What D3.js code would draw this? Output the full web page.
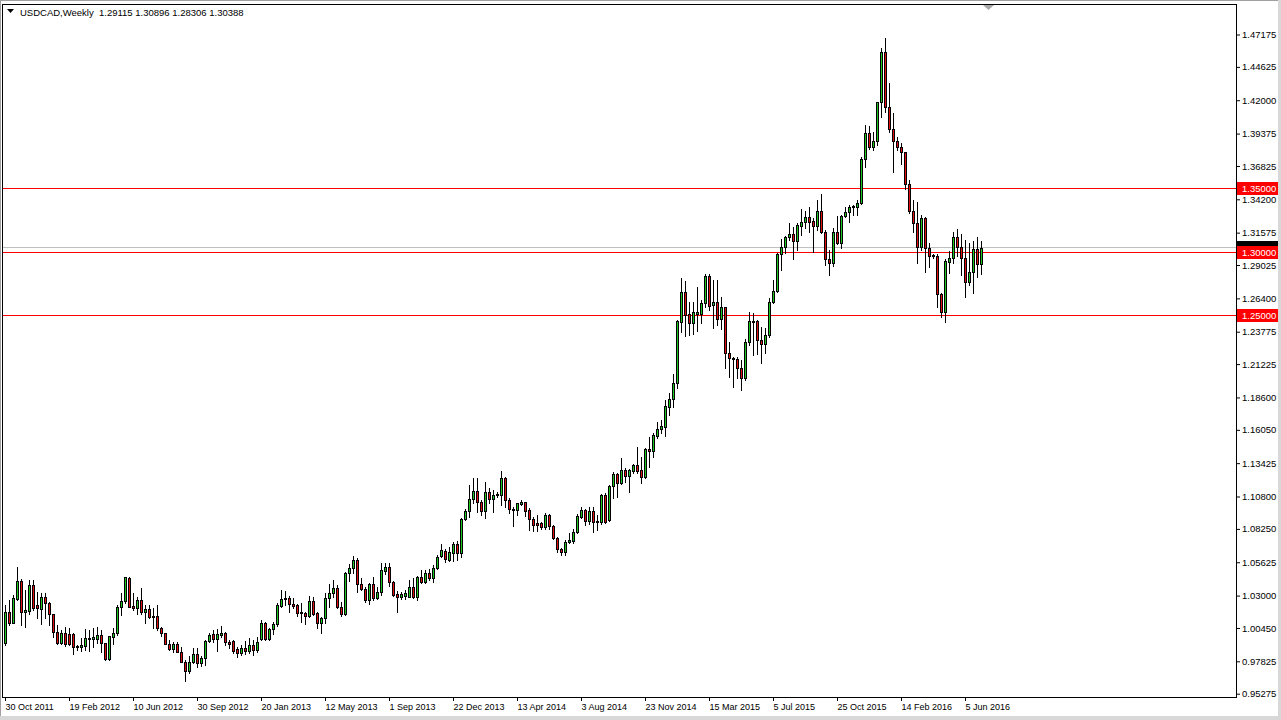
<!DOCTYPE html>
<html><head><meta charset="utf-8">
<script src="https://cdn.jsdelivr.net/npm/d3@7"></script>
<style>html,body{margin:0;padding:0;background:#fff;overflow:hidden}text{font-family:"Liberation Sans",Arial,sans-serif}</style>
</head><body>
<svg id="c" width="1281" height="720"></svg>
<script>
// ---------------- DATA ----------------
const symbolName = "USDCAD,Weekly";
const lastQuote = ["1.29115", "1.30896", "1.28306", "1.30388"];

const openP = [
0.9929,1.0173,1.0086,1.0271,1.0415,1.0168,1.0181,1.0383,1.0226,1.0192,
1.0286,1.0244,1.0152,1.0011,0.9929,1.0003,0.9995,0.9995,0.9903,0.9897,
0.9905,0.9960,0.9958,0.9960,0.9987,0.9924,0.9801,0.9976,1.0003,1.0208,
1.0257,1.0441,1.0218,1.0200,1.0265,1.0173,1.0194,1.0139,1.0139,1.0042,
1.0003,0.9919,0.9882,0.9919,0.9858,0.9779,0.9709,0.9774,0.9838,0.9771,
0.9806,0.9942,0.9995,0.9955,0.9989,1.0003,0.9937,0.9945,0.9877,0.9850,
0.9887,0.9864,0.9911,0.9872,0.9958,1.0082,0.9958,1.0034,1.0076,1.0220,
1.0271,1.0281,1.0231,1.0226,1.0168,1.0165,1.0141,1.0257,1.0160,1.0082,
1.0121,1.0278,1.0318,1.0357,1.0208,1.0155,1.0475,1.0519,1.0580,1.0389,
1.0349,1.0265,1.0389,1.0278,1.0330,1.0495,1.0527,1.0409,1.0310,1.0291,
1.0300,1.0291,1.0365,1.0291,1.0444,1.0409,1.0480,1.0436,1.0515,1.0614,
1.0651,1.0580,1.0638,1.0706,1.0633,1.0900,1.0966,1.1058,1.1124,1.1035,
1.0969,1.1114,1.1059,1.1090,1.1092,1.1224,1.1053,1.0982,1.0974,1.1022,
1.1035,1.0974,1.0901,1.0870,1.0870,1.0843,1.0935,1.0851,1.0752,1.0665,
1.0646,1.0725,1.0733,1.0804,1.0921,1.0974,1.0890,1.0969,1.0877,1.0877,
1.1092,1.0896,1.1163,1.1257,1.1184,1.1289,1.1241,1.1283,1.1328,1.1289,
1.1231,1.1452,1.1440,1.1559,1.1609,1.1630,1.1787,1.1846,1.1971,1.2456,
1.2688,1.2517,1.2448,1.2514,1.2514,1.2601,1.2818,1.2588,1.2609,1.2475,
1.2570,1.2208,1.2173,1.2163,1.2090,1.2011,1.2295,1.2462,1.2462,1.2313,
1.2279,1.2352,1.2609,1.2698,1.2990,1.3042,1.3121,1.3147,1.3094,1.3212,
1.3239,1.3278,1.3249,1.3212,1.3330,1.3165,1.2948,1.2916,1.3165,1.3074,
1.3291,1.3318,1.3358,1.3362,1.3389,1.3735,1.3939,1.3834,1.3879,1.4184,
1.4577,1.4145,1.3971,1.3882,1.3835,1.3790,1.3541,1.3331,1.3236,1.3047,
1.3270,1.3034,1.2982,1.2976,1.2672,1.2535,1.2928,1.2955,1.3120,1.3046,
1.2955,1.2771,1.2845,1.3029,1.29115
];
const highP = [
1.0226,1.0265,1.0304,1.0527,1.0430,1.0344,1.0422,1.0422,1.0330,1.0318,
1.0322,1.0252,1.0155,1.0068,1.0029,1.0050,1.0042,1.0003,0.9911,0.9964,
1.0034,1.0029,1.0042,1.0055,1.0029,0.9929,0.9982,1.0042,1.0226,1.0318,
1.0448,1.0448,1.0318,1.0291,1.0357,1.0226,1.0226,1.0200,1.0226,1.0055,
1.0008,0.9950,0.9937,0.9937,0.9897,0.9793,0.9824,0.9885,0.9885,0.9824,
0.9950,1.0008,1.0029,1.0034,1.0060,1.0016,0.9950,0.9950,0.9897,0.9911,
0.9942,0.9966,0.9950,0.9974,1.0108,1.0094,1.0042,1.0094,1.0239,1.0344,
1.0338,1.0296,1.0278,1.0231,1.0244,1.0173,1.0296,1.0291,1.0173,1.0134,
1.0318,1.0391,1.0422,1.0383,1.0252,1.0488,1.0548,1.0611,1.0593,1.0436,
1.0365,1.0396,1.0444,1.0365,1.0558,1.0554,1.0554,1.0415,1.0338,1.0330,
1.0344,1.0422,1.0436,1.0454,1.0501,1.0501,1.0507,1.0541,1.0620,1.0706,
1.0664,1.0685,1.0724,1.0732,1.0908,1.0979,1.1171,1.1223,1.1223,1.1052,
1.1197,1.1145,1.1132,1.1118,1.1284,1.1236,1.1066,1.1000,1.1032,1.1053,
1.1040,1.0988,1.0917,1.0935,1.0882,1.0953,1.0943,1.0856,1.0759,1.0673,
1.0738,1.0796,1.0822,1.0943,1.0996,1.0980,1.1000,1.1000,1.0935,1.1100,
1.1106,1.1171,1.1276,1.1263,1.1381,1.1302,1.1294,1.1336,1.1467,1.1393,
1.1459,1.1551,1.1582,1.1669,1.1682,1.1840,1.1897,1.2045,1.2470,1.2798,
1.2779,1.2614,1.2614,1.2727,1.2627,1.2832,1.2832,1.2784,1.2784,1.2653,
1.2575,1.2299,1.2181,1.2181,1.2155,1.2318,1.2535,1.2528,1.2470,1.2417,
1.2405,1.2641,1.2785,1.3000,1.3105,1.3131,1.3231,1.3204,1.3236,1.3341,
1.3330,1.3362,1.3270,1.3415,1.3462,1.3178,1.3021,1.3192,1.3289,1.3297,
1.3362,1.3376,1.3376,1.3415,1.3756,1.4005,1.3997,1.3952,1.4188,1.4608,
1.4687,1.4333,1.4102,1.3913,1.3861,1.3795,1.3572,1.3415,1.3402,1.3296,
1.3283,1.3074,1.2990,1.2990,1.2680,1.2947,1.3015,1.3165,1.3184,1.3148,
1.3100,1.3073,1.3094,1.3120,1.30896
];
const lowP = [
0.9911,1.0068,1.0084,1.0265,1.0068,1.0053,1.0155,1.0186,1.0121,1.0076,
1.0121,1.0068,0.9976,0.9919,0.9919,0.9903,0.9911,0.9838,0.9871,0.9866,
0.9871,0.9866,0.9897,0.9924,0.9858,0.9793,0.9793,0.9919,0.9989,1.0147,
1.0239,1.0208,1.0186,1.0152,1.0155,1.0086,1.0121,1.0042,1.0029,0.9982,
0.9916,0.9871,0.9858,0.9853,0.9774,0.9630,0.9688,0.9766,0.9735,0.9745,
0.9753,0.9932,0.9937,0.9866,0.9971,0.9911,0.9885,0.9847,0.9819,0.9832,
0.9840,0.9848,0.9832,0.9856,0.9950,0.9950,0.9950,0.9997,1.0060,1.0212,
1.0226,1.0173,1.0200,1.0139,1.0094,1.0076,1.0134,1.0147,1.0042,1.0008,
1.0082,1.0212,1.0291,1.0200,1.0139,1.0147,1.0417,1.0475,1.0330,1.0344,
1.0252,1.0234,1.0265,1.0271,1.0304,1.0470,1.0375,1.0296,1.0173,1.0271,
1.0271,1.0286,1.0278,1.0265,1.0396,1.0401,1.0422,1.0409,1.0507,1.0606,
1.0567,1.0575,1.0575,1.0580,1.0606,1.0895,1.0921,1.1027,1.0960,1.0934,
1.0909,1.1027,1.0956,1.1074,1.1014,1.0996,1.0953,1.0851,1.0935,1.1014,
1.0927,1.0817,1.0811,1.0811,1.0822,1.0822,1.0822,1.0744,1.0646,1.0620,
1.0620,1.0712,1.0712,1.0796,1.0909,1.0856,1.0864,1.0804,1.0817,1.0864,
1.0870,1.0888,1.1066,1.1078,1.1178,1.1197,1.1118,1.1263,1.1263,1.1189,
1.1223,1.1315,1.1393,1.1538,1.1577,1.1557,1.1722,1.1787,1.1932,1.2378,
1.2344,1.2352,1.2359,1.2385,1.2444,1.2574,1.2548,1.2404,1.2430,1.2396,
1.2090,1.2024,1.1945,1.2011,1.1919,1.1998,1.2273,1.2195,1.2203,1.2129,
1.2213,1.2339,1.2601,1.2693,1.2864,1.2995,1.3100,1.2948,1.3021,1.3139,
1.3192,1.3165,1.3008,1.3178,1.3152,1.2903,1.2824,1.2895,1.3068,1.3034,
1.3284,1.3244,1.3297,1.3297,1.3384,1.3677,1.3814,1.3808,1.3847,1.4066,
1.4110,1.3953,1.3638,1.3808,1.3698,1.3499,1.3310,1.3166,1.2922,1.3021,
1.2850,1.2890,1.2958,1.2575,1.2496,1.2456,1.2837,1.2921,1.2973,1.2824,
1.2653,1.2745,1.2680,1.2810,1.28306
];
const closeP = [
1.0173,1.0086,1.0278,1.0415,1.0168,1.0186,1.0383,1.0200,1.0200,1.0291,
1.0239,1.0152,1.0011,0.9929,1.0003,0.9916,0.9916,0.9893,0.9893,0.9911,
0.9964,0.9968,0.9971,0.9987,0.9924,0.9801,0.9982,1.0003,1.0208,1.0257,
1.0444,1.0212,1.0200,1.0265,1.0173,1.0194,1.0134,1.0134,1.0042,1.0003,
0.9919,0.9882,0.9919,0.9858,0.9779,0.9709,0.9774,0.9838,0.9771,0.9811,
0.9945,0.9989,0.9955,0.9995,1.0003,0.9932,0.9919,0.9866,0.9850,0.9887,
0.9864,0.9911,0.9872,0.9934,1.0082,0.9958,1.0034,1.0076,1.0226,1.0271,
1.0281,1.0231,1.0220,1.0165,1.0165,1.0141,1.0257,1.0155,1.0082,1.0121,
1.0278,1.0318,1.0357,1.0208,1.0155,1.0475,1.0519,1.0580,1.0389,1.0349,
1.0265,1.0389,1.0278,1.0330,1.0501,1.0527,1.0409,1.0304,1.0291,1.0310,
1.0318,1.0365,1.0291,1.0444,1.0409,1.0475,1.0436,1.0515,1.0606,1.0659,
1.0586,1.0641,1.0706,1.0633,1.0900,1.0966,1.1058,1.1124,1.1035,1.0968,
1.1114,1.1059,1.1092,1.1100,1.1224,1.1053,1.0980,1.0974,1.1027,1.1035,
1.0969,1.0901,1.0856,1.0856,1.0843,1.0935,1.0851,1.0752,1.0665,1.0646,
1.0725,1.0738,1.0804,1.0927,1.0974,1.0890,1.0969,1.0877,1.0888,1.1092,
1.0882,1.1163,1.1258,1.1184,1.1289,1.1241,1.1289,1.1328,1.1283,1.1231,
1.1452,1.1440,1.1564,1.1609,1.1635,1.1793,1.1846,1.1971,1.2462,1.2688,
1.2509,1.2448,1.2530,1.2530,1.2601,1.2818,1.2582,1.2614,1.2475,1.2570,
1.2208,1.2169,1.2163,1.2090,1.2011,1.2295,1.2462,1.2452,1.2313,1.2279,
1.2352,1.2609,1.2698,1.2990,1.3042,1.3121,1.3147,1.3094,1.3218,1.3239,
1.3278,1.3244,1.3212,1.3330,1.3165,1.2948,1.2916,1.3165,1.3074,1.3291,
1.3318,1.3358,1.3368,1.3389,1.3735,1.3939,1.3834,1.3879,1.4183,1.4577,
1.4145,1.3971,1.3882,1.3835,1.3790,1.3541,1.3331,1.3236,1.3047,1.3270,
1.3034,1.2976,1.2974,1.2672,1.2535,1.2934,1.2955,1.3120,1.3046,1.2955,
1.2771,1.2845,1.3029,1.2908,1.30388
];

const dateTickIndex = [0,16,32,48,64,80,96,112,128,144,160,176,192,208,224,240];
const dateTickLabels = ["30 Oct 2011","19 Feb 2012","10 Jun 2012","30 Sep 2012","20 Jan 2013",
  "12 May 2013","1 Sep 2013","22 Dec 2013","13 Apr 2014","3 Aug 2014","23 Nov 2014",
  "15 Mar 2015","5 Jul 2015","25 Oct 2015","14 Feb 2016","5 Jun 2016"];
const priceTicks = [1.47175,1.44625,1.42000,1.39375,1.36825,1.34200,1.31575,1.29025,1.26400,
  1.23775,1.21225,1.18600,1.16050,1.13425,1.10800,1.08250,1.05625,1.03000,1.00450,0.97825,0.95275];
const levelLines = [1.35, 1.30, 1.25];
const bidPrice = 1.30388;

// ---------------- LAYOUT ----------------
const W = 1281, H = 720;
const P = {left: 2, top: 4, right: 1236, bottom: 697};
const FS = "9.5px";
const FONT = "'Liberation Sans',Arial,sans-serif";
const bullColor = "#1ec81e", bearColor = "#e01010";

const svg = d3.select("#c");
svg.append("rect").attr("width", W).attr("height", H).attr("fill", "#fff");
// window edges
svg.append("rect").attr("x", 1278).attr("y", 0).attr("width", 3).attr("height", H).attr("fill", "#d8d8d8");
svg.append("rect").attr("x", 0).attr("y", 716).attr("width", W).attr("height", 4).attr("fill", "#d8d8d8");
svg.append("line").attr("x1", 0).attr("x2", 1278).attr("y1", 0.5).attr("y2", 0.5).attr("stroke", "#a0a0a0");
svg.append("line").attr("x1", 0.5).attr("x2", 0.5).attr("y1", 0).attr("y2", 716).attr("stroke", "#a0a0a0");

const n = openP.length;
const x = d3.scaleLinear().domain([0, n - 1]).range([5, 5 + 4 * (n - 1)]);
const y = d3.scaleLinear().domain([0.95275, 1.47175]).range([693.7, 34.5]);

svg.append("defs").append("clipPath").attr("id", "pc")
  .append("rect").attr("x", P.left + 1).attr("y", P.top + 1)
  .attr("width", P.right - P.left - 1).attr("height", P.bottom - P.top - 1);
const g = svg.append("g").attr("clip-path", "url(#pc)");

// bid line
g.append("line").attr("x1", P.left).attr("x2", P.right)
  .attr("y1", Math.round(y(bidPrice)) - 0.5).attr("y2", Math.round(y(bidPrice)) - 0.5)
  .attr("stroke", "#c0c0c0");
// level lines
g.selectAll("line.lvl").data(levelLines).join("line").attr("class", "lvl")
  .attr("x1", P.left).attr("x2", P.right)
  .attr("y1", d => Math.round(y(d)) - 0.5).attr("y2", d => Math.round(y(d)) - 0.5)
  .attr("stroke", "#ff0000");

// candles
const cg = g.append("g");
d3.range(n).forEach(i => {
  const cx = Math.round(x(i));
  const yo = Math.round(y(openP[i])), yc = Math.round(y(closeP[i]));
  const yh = Math.round(y(highP[i])), yl = Math.round(y(lowP[i]));
  cg.append("line").attr("x1", cx + 0.5).attr("x2", cx + 0.5).attr("y1", yh).attr("y2", yl + 1)
    .attr("stroke", "#000");
  const top = Math.min(yo, yc), bot = Math.max(yo, yc);
  if (bot - top < 1) {
    cg.append("line").attr("x1", cx - 1).attr("x2", cx + 2).attr("y1", top + 0.5).attr("y2", top + 0.5)
      .attr("stroke", "#000");
  } else {
    cg.append("rect").attr("x", cx - 0.5).attr("y", top + 0.5).attr("width", 2).attr("height", bot - top)
      .attr("fill", closeP[i] >= openP[i] ? bullColor : bearColor).attr("stroke", "#000");
  }
});

// frame
svg.append("rect").attr("x", P.left + 0.5).attr("y", P.top + 0.5)
  .attr("width", P.right - P.left).attr("height", P.bottom - P.top)
  .attr("fill", "none").attr("stroke", "#000");

// price axis
const ya = d3.axisRight(y).tickValues(priceTicks).tickFormat(d3.format(".5f")).tickSize(4).tickPadding(2);
const yAx = svg.append("g").attr("transform", `translate(${P.right},0)`).call(ya);
yAx.select(".domain").remove();
yAx.selectAll("text").attr("font-size", FS).attr("fill", "#000").style("font-family", FONT);
yAx.selectAll("line").attr("stroke", "#000");

// date axis
const xa = d3.axisBottom(x).tickValues(dateTickIndex)
  .tickFormat((d, k) => dateTickLabels[k]).tickSize(4).tickPadding(3);
const xAx = svg.append("g").attr("transform", `translate(0,${P.bottom})`).call(xa);
xAx.select(".domain").remove();
xAx.selectAll("text").attr("font-size", "9px").attr("fill", "#000").attr("text-anchor", "start").attr("dx", "0")
  .style("font-family", FONT);
xAx.selectAll("line").attr("stroke", "#000");

// price labels on axis: bid (black, mostly hidden) then levels (red)
function priceTag(v, bg, clipTop) {
  const yy = Math.round(y(v)) - 1;
  const grp = svg.append("g");
  grp.append("rect").attr("x", P.right + 1).attr("y", yy - 6).attr("width", W - P.right - 4).attr("height", 13).attr("fill", bg);
  const t = grp.append("text").attr("x", P.right + 6).attr("y", yy + 0.5).attr("dy", "0.35em")
    .attr("font-size", FS).attr("fill", "#fff").style("font-family", FONT).text(d3.format(".5f")(v));
  if (clipTop) {
    svg.select("defs").append("clipPath").attr("id", "bidclip")
      .append("rect").attr("x", P.right).attr("y", yy - 6).attr("width", 50).attr("height", 4);
    t.attr("clip-path", "url(#bidclip)");
  }
}
priceTag(bidPrice, "#000", true);
levelLines.forEach(v => priceTag(v, "#ff0000", false));

// header
svg.append("path").attr("d", "M7,9 L14,9 L10.5,13 Z").attr("fill", "#000");
svg.append("text").attr("x", 20).attr("y", 16).attr("font-size", FS).attr("fill", "#000")
  .style("font-family", FONT).style("white-space", "pre")
  .text(symbolName + "  " + lastQuote.join(" "));
// shift marker
svg.append("path").attr("d", "M983,5 L994,5 L988.5,10 Z").attr("fill", "#a8a8a8");
</script>
</body></html>
